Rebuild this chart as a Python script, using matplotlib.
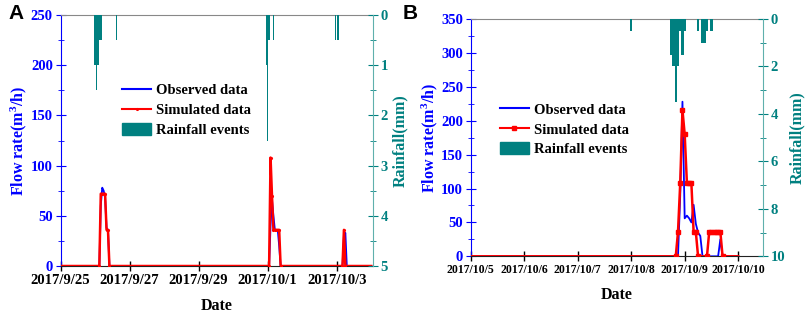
import numpy as np
import pandas as pd
import matplotlib
matplotlib.use('Agg')
import matplotlib.pyplot as plt
import matplotlib.dates as mdates
from matplotlib.lines import Line2D
from matplotlib.patches import Patch

plt.rcParams['font.family'] = ['Liberation Serif', 'DejaVu Serif']
plt.rcParams['font.weight'] = 'bold'
plt.rcParams['axes.labelweight'] = 'bold'
plt.rcParams['mathtext.fontset'] = 'custom'
plt.rcParams['mathtext.rm'] = 'Liberation Serif:bold'
plt.rcParams['mathtext.default'] = 'rm'

BLUE = '#0000ff'
RED = '#ff0000'
TEAL = '#008080'

# ---- panel A data (hours after 2017-09-25 00:00) ----
startA = pd.Timestamp('2017-09-25')
obsA_h = [0, 27, 28, 29, 30, 31, 32, 33, 34, 145, 146, 147, 148, 149, 150, 151, 152, 153, 196, 197, 198, 199, 216]
obsA_q = [0, 0, 60, 78, 75, 68, 38, 36, 0, 0, 40, 66, 50, 36, 36, 36, 20, 0, 0, 30, 33, 0, 0]
simA_h = [0, 27, 28, 29, 30, 31, 32, 33, 34, 145, 146, 147, 148, 149, 150, 151, 152, 153, 196, 197, 198, 216]
simA_q = [0, 0, 72, 72, 72, 72, 36, 36, 0, 0, 108, 70, 36, 36, 36, 36, 36, 0, 0, 36, 0, 0]
rainA_h = [24, 25, 26, 27, 28, 39, 143, 144, 145, 148, 191, 193]
rainA_mm = [1.0, 1.5, 1.0, 0.5, 0.5, 0.5, 1.0, 2.5, 0.5, 0.5, 0.5, 0.5]
ticksA = ['2017-09-25', '2017-09-27', '2017-09-29', '2017-10-01', '2017-10-03']

# ---- panel B data (hours after 2017-10-05 00:00) ----
startB = pd.Timestamp('2017-10-05')
obsB_h = [0, 92, 93, 94, 95, 96, 97, 98, 99, 100, 101, 102, 103, 104, 111, 112, 113, 120]
obsB_q = [0, 0, 0, 90, 228, 56, 60, 56, 50, 76, 48, 35, 30, 0, 0, 25, 0, 0]
simB_h = [0, 92, 93, 94, 95, 96, 97, 98, 99, 100, 101, 102, 106, 107, 108, 109, 110, 111, 112, 113, 120]
simB_q = [0, 0, 36, 108, 216, 180, 108, 108, 108, 36, 36, 0, 0, 36, 36, 36, 36, 36, 36, 0, 0]
rainB_h = [72, 90, 91, 92, 93, 94, 95, 96, 102, 104, 105, 106, 108]
rainB_mm = [0.5, 1.5, 2.0, 3.5, 2.0, 0.5, 1.5, 0.5, 0.5, 1.0, 1.0, 0.5, 0.5]
ticksB = ['2017-10-05', '2017-10-06', '2017-10-07', '2017-10-08', '2017-10-09', '2017-10-10']


def to_dates(start, hours):
    return [start + pd.Timedelta(hours=h) for h in hours]


def date_fmt(x, pos):
    d = mdates.num2date(x)
    return '{}/{}/{}'.format(d.year, d.month, d.day)


def panel(fig, rect, start, obs_h, obs_q, sim_h, sim_q, rain_h, rain_mm, ticks,
          xend_h, ymax, ystep, rmax, rstep, marker, ms, xfs, leg_anchor, letter, letter_xy):
    ax1 = fig.add_axes(rect)
    ax2 = ax1.twinx()

    # rainfall hanging from the top
    ax2.bar(to_dates(start, rain_h), rain_mm, width=1 / 24, color=TEAL, align='center', lw=0)
    ax2.set_ylim(rmax, 0)

    ax1.plot(to_dates(start, obs_h), obs_q, color=BLUE, lw=1.3, zorder=3)
    ax1.plot(to_dates(start, sim_h), sim_q, color=RED, lw=1.8, marker=marker, ms=ms,
             markevery=slice(1, -1), zorder=4)
    ax1.set_ylim(0, ymax)
    ax1.set_xlim(start, start + pd.Timedelta(hours=xend_h))

    ax1.set_xticks([pd.Timestamp(t) for t in ticks])
    ax1.xaxis.set_major_formatter(plt.FuncFormatter(date_fmt))
    ax1.yaxis.set_major_locator(plt.MultipleLocator(ystep))
    ax1.yaxis.set_minor_locator(plt.MultipleLocator(ystep / 2))
    ax2.yaxis.set_major_locator(plt.MultipleLocator(rstep))
    ax2.yaxis.set_minor_locator(plt.MultipleLocator(rstep / 2))

    ax1.tick_params(axis='x', which='major', direction='inout', length=7, width=1, labelsize=xfs, pad=2)
    ax1.tick_params(axis='x', which='minor', direction='inout', length=4, width=1)
    ax1.tick_params(axis='y', which='both', direction='inout', colors=BLUE, labelsize=10.5, pad=2)
    ax1.tick_params(axis='y', which='major', length=7)
    ax1.tick_params(axis='y', which='minor', length=4)
    ax2.tick_params(axis='y', which='both', direction='inout', colors=TEAL, labelsize=10.5, pad=2)
    ax2.tick_params(axis='y', which='major', length=7)
    ax2.tick_params(axis='y', which='minor', length=4)

    ax1.spines['left'].set_color(BLUE)
    ax1.spines['top'].set_color('#888888')
    ax1.spines['bottom'].set_color('#222222')
    ax1.spines['right'].set_visible(False)
    for s in ['left', 'top', 'bottom']:
        ax2.spines[s].set_visible(False)
    ax2.spines['right'].set_color('#5fb0ac')

    ax1.set_ylabel('Flow rate(m$^{3}$/h)', color=BLUE, fontsize=11.5, labelpad=1)
    ax2.set_ylabel('Rainfall(mm)', color=TEAL, fontsize=11.5, labelpad=3)
    ax1.set_xlabel('Date', fontsize=11.5, labelpad=8)

    handles = [Line2D([0], [0], color=BLUE, lw=1.5),
               Line2D([0], [0], color=RED, lw=1.5, marker=marker, ms=ms),
               Patch(color=TEAL)]
    labels = ['Observed data', 'Simulated data', 'Rainfall events']
    ax2.legend(handles, labels, loc='upper left', bbox_to_anchor=leg_anchor, frameon=False,
               fontsize=10.5, handlelength=2.0, handletextpad=0.35, handleheight=0.9,
               labelspacing=0.4, borderpad=0, borderaxespad=0)

    fig.text(letter_xy[0], letter_xy[1], letter, fontsize=15, fontweight='bold',
             family='Liberation Sans', ha='left', va='top')
    return ax1, ax2


fig = plt.figure(figsize=(8.09, 3.15), dpi=100)

panel(fig, [60.5 / 809, 1 - 266 / 315, 312.2 / 809, 251 / 315], startA,
      obsA_h, obsA_q, simA_h, simA_q, rainA_h, rainA_mm, ticksA,
      217, 250, 50, 5, 1, '.', 2.5, 10.5, (0.197, 0.728), 'A', (8 / 809, 1 - 4 / 315))

panel(fig, [470.7 / 809, 1 - 256.3 / 315, 292 / 809, 237.3 / 315], startB,
      obsB_h, obsB_q, simB_h, simB_q, rainB_h, rainB_mm, ticksB,
      131, 350, 50, 10, 2, 's', 2.5, 8.5, (0.10, 0.648), 'B', (403 / 809, 1 - 4 / 315))

fig.savefig('out.png', dpi=100)
